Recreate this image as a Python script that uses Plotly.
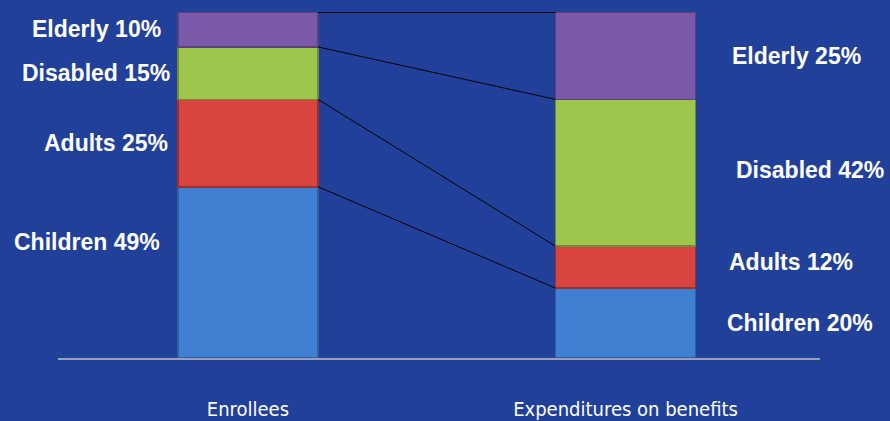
import plotly.graph_objects as go

categories = ["Enrollees", "Expenditures on benefits"]
groups = ["Children", "Adults", "Disabled", "Elderly"]
enrollees = [49, 25, 15, 10]
expenditures = [20, 12, 42, 25]

colors = {"Children": "#3f80d2", "Adults": "#d94340", "Disabled": "#9cc64c", "Elderly": "#7a5aa8"}
edges = {"Children": "#2e5f9e", "Adults": "#9e2f2c", "Disabled": "#6e8c36", "Elderly": "#5a4280"}

BG = "#21409a"
BAR_W = 0.371

fig = go.Figure()
series = list(zip(enrollees, expenditures))
for g, vals in zip(groups, series):
    fig.add_trace(go.Bar(
        x=[0, 1], y=list(vals), width=BAR_W,
        marker=dict(color=colors[g], line=dict(color=edges[g], width=1.5)),
        name=g, showlegend=False, hoverinfo="skip",
    ))

# connecting lines between cumulative boundaries
cum_l, cum_r = [], []
sl = sr = 0
for a, b in zip(enrollees, expenditures):
    sl += a; sr += b
    cum_l.append(sl); cum_r.append(sr)
for i, (yl, yr) in enumerate(zip(cum_l, cum_r)):
    fig.add_trace(go.Scatter(
        x=[BAR_W / 2, 1 - BAR_W / 2], y=[yl, yr], mode="lines",
        line=dict(color="black", width=2 if i == len(cum_l) - 1 else 1),
        showlegend=False, hoverinfo="skip", cliponaxis=False,
    ))

# labels
left_x = [87, 106, 96, 96]      # pixel centers for left labels
left_shift = [30, 0, 0, 0]
right_x = [800, 791, 810, 796]
right_shift = [0, 5, 3, 0]
PX0, PX1 = 58, 820
LABEL_FONT = dict(family="Liberation Sans, Arial", size=23, color="white", weight="bold")
prev = 0
for g, v, lx, sh in zip(groups, enrollees, left_x, left_shift):
    fig.add_annotation(x=(lx - PX0) / (PX1 - PX0), xref="paper", y=prev + v / 2, yref="y",
                       xanchor="center", yanchor="middle",
                       text=f"{g} {v}%", showarrow=False, yshift=sh, font=LABEL_FONT)
    prev += v
prev = 0
for g, v, rx, sh in zip(groups, expenditures, right_x, right_shift):
    fig.add_annotation(x=(rx - PX0) / (PX1 - PX0), xref="paper", y=prev + v / 2, yref="y",
                       xanchor="center", yanchor="middle",
                       text=f"{g} {v}%", showarrow=False, yshift=sh, font=LABEL_FONT)
    prev += v

fig.update_layout(
    barmode="stack",
    width=890, height=421,
    margin=dict(l=PX0, r=890 - PX1, t=12, b=63),
    paper_bgcolor=BG, plot_bgcolor=BG,
    xaxis=dict(range=[-0.503, 1.515], tickvals=[0, 1], ticktext=categories,
               showgrid=False, zeroline=False, showline=True, linecolor="#9aa0b8", linewidth=1.5,
               ticks="", ticklabelstandoff=32, automargin=False,
               tickfont=dict(family="DejaVu Sans Condensed", size=20, color="white")),
    yaxis=dict(range=[0, 99], visible=False, showgrid=False, zeroline=False, automargin=False),
)

fig.write_html("out.html", config={"displayModeBar": False},
               post_script="document.body.style.margin='0';document.body.style.background='" + BG + "';")
